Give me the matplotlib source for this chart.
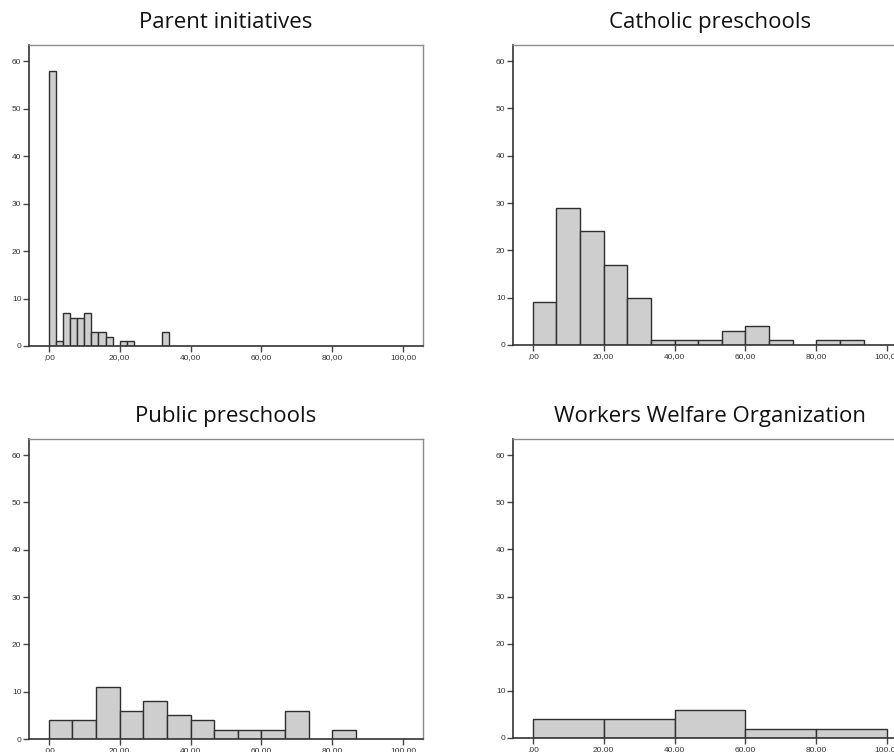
import numpy as np
import matplotlib
matplotlib.use("Agg")
import matplotlib.pyplot as plt

# Histogram counts per group (share of children, %), with their bin edges
parent_edges = np.arange(0, 36, 2)
parent_counts = [58, 1, 7, 6, 6, 7, 3, 3, 2, 0, 1, 1, 0, 0, 0, 0, 3]

catholic_edges = np.linspace(0, 100, 16)[:15]
catholic_counts = [9, 29, 24, 17, 10, 1, 1, 1, 3, 4, 1, 0, 1, 1]

public_edges = np.linspace(0, 100, 16)[:14]
public_counts = [4, 4, 11, 6, 8, 5, 4, 2, 2, 2, 6, 0, 2]

awo_edges = np.arange(0, 120, 20)
awo_counts = [4, 4, 6, 2, 2]

titles = ["Parent initiatives", "Catholic preschools",
          "Public preschools", "Workers Welfare Organization"]
x_ticks = [0, 20, 40, 60, 80, 100]
x_tick_labels = [",00", "20,00", "40,00", "60,00", "80,00", "100,00"]
y_ticks = [0, 10, 20, 30, 40, 50, 60]

panels = [
    (parent_edges, parent_counts),
    (catholic_edges, catholic_counts),
    (public_edges, public_counts),
    (awo_edges, awo_counts),
]

W, H = 895, 752
fig = plt.figure(figsize=(W / 100, H / 100), dpi=100)
fig.patch.set_facecolor("white")

# panel boxes in pixels: (left, top, width, height)
boxes = [(29, 45, 394, 301), (513, 45, 394, 300),
         (29, 439, 394, 300), (513, 439, 394, 299)]

for (edges, counts), title, (l, t, w, h) in zip(panels, titles, boxes):
    ax = fig.add_axes([l / W, 1 - (t + h) / H, w / W, h / H])
    edges = np.asarray(edges, dtype=float)
    counts = np.asarray(counts, dtype=float)
    widths = np.diff(edges)
    mask = counts > 0
    ax.bar(edges[:-1][mask], counts[mask], width=widths[mask], align="edge",
           color="#cecece", edgecolor="#2f2f2f", linewidth=1.0, zorder=2)
    ax.set_xlim(-5.6, 105.6)
    ax.set_ylim(0, 63.4)
    ax.set_xticks(x_ticks)
    ax.set_xticklabels(x_tick_labels)
    ax.set_yticks(y_ticks)
    ax.tick_params(direction="out", length=4, width=1, colors="#444444",
                   labelsize=6, pad=1.5, labelcolor="#333333")
    for lab in ax.get_xticklabels() + ax.get_yticklabels():
        lab.set_family("Liberation Sans")
    for s in ("left", "bottom"):
        ax.spines[s].set_color("#333333")
        ax.spines[s].set_linewidth(1.2)
    for s in ("top", "right"):
        ax.spines[s].set_color("#8c8c8c")
        ax.spines[s].set_linewidth(1.0)
    ax.set_title(title, fontsize=16, family="Open Sans", color="#111111", pad=12)

fig.savefig("out.png", dpi=100, facecolor="white")
